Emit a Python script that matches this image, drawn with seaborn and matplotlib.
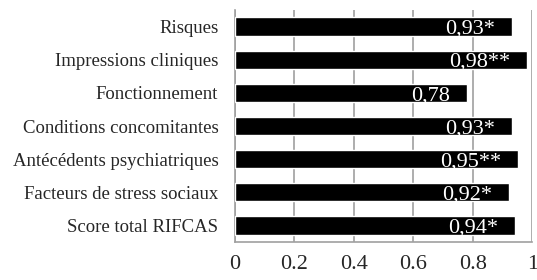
import matplotlib
matplotlib.use("Agg")
import matplotlib.pyplot as plt
import matplotlib.transforms as mtransforms
import seaborn as sns
import pandas as pd

categories = [
    "Risques",
    "Impressions cliniques",
    "Fonctionnement",
    "Conditions concomitantes",
    "Antécédents psychiatriques",
    "Facteurs de stress sociaux",
    "Score total RIFCAS",
]
values = [0.93, 0.98, 0.78, 0.93, 0.95, 0.92, 0.94]
value_labels = ["0,93*", "0,98**", "0,78", "0,93*", "0,95**", "0,92*", "0,94*"]
x_ticks = [0, 0.2, 0.4, 0.6, 0.8, 1]
x_tick_labels = ["0", "0.2", "0.4", "0.6", "0.8", "1"]

df = pd.DataFrame({"categorie": categories, "valeur": values})

sns.set_style("white")
plt.rcParams["font.family"] = ["Liberation Serif", "DejaVu Serif"]

fig = plt.figure(figsize=(5.37, 2.8), dpi=100)
ax = fig.add_axes([0.4376, 0.1357, 0.5540, 0.8286])

sns.barplot(data=df, x="valeur", y="categorie", orient="h", color="black",
            width=0.55, saturation=1, ax=ax, zorder=3)

ax.set_xlim(0, 1)
ax.set_ylim(6.5, -0.5)
ax.set_xticks(x_ticks)
ax.set_xticklabels(x_tick_labels, fontsize=16)
ax.tick_params(axis="x", length=0, pad=9)
ax.tick_params(axis="y", length=0, pad=12, labelsize=13.5)
ax.set_xlabel("")
ax.set_ylabel("")

ax.grid(axis="x", color="#a0a0a0", linewidth=1.2, zorder=0)
ax.set_axisbelow(True)
for side in ["top", "right"]:
    ax.spines[side].set_visible(False)
for side in ["left", "bottom"]:
    ax.spines[side].set_color("#a0a0a0")
    ax.spines[side].set_linewidth(1.2)

# value labels inside the end of each bar
offset = mtransforms.ScaledTranslation(-12 / 72, -2 / 72, fig.dpi_scale_trans)
for i, (v, lbl) in enumerate(zip(values, value_labels)):
    ax.text(v, i, lbl, color="white", fontsize=16, ha="right", va="center",
            transform=ax.transData + offset, zorder=4)

fig.savefig("out.png", dpi=100)
